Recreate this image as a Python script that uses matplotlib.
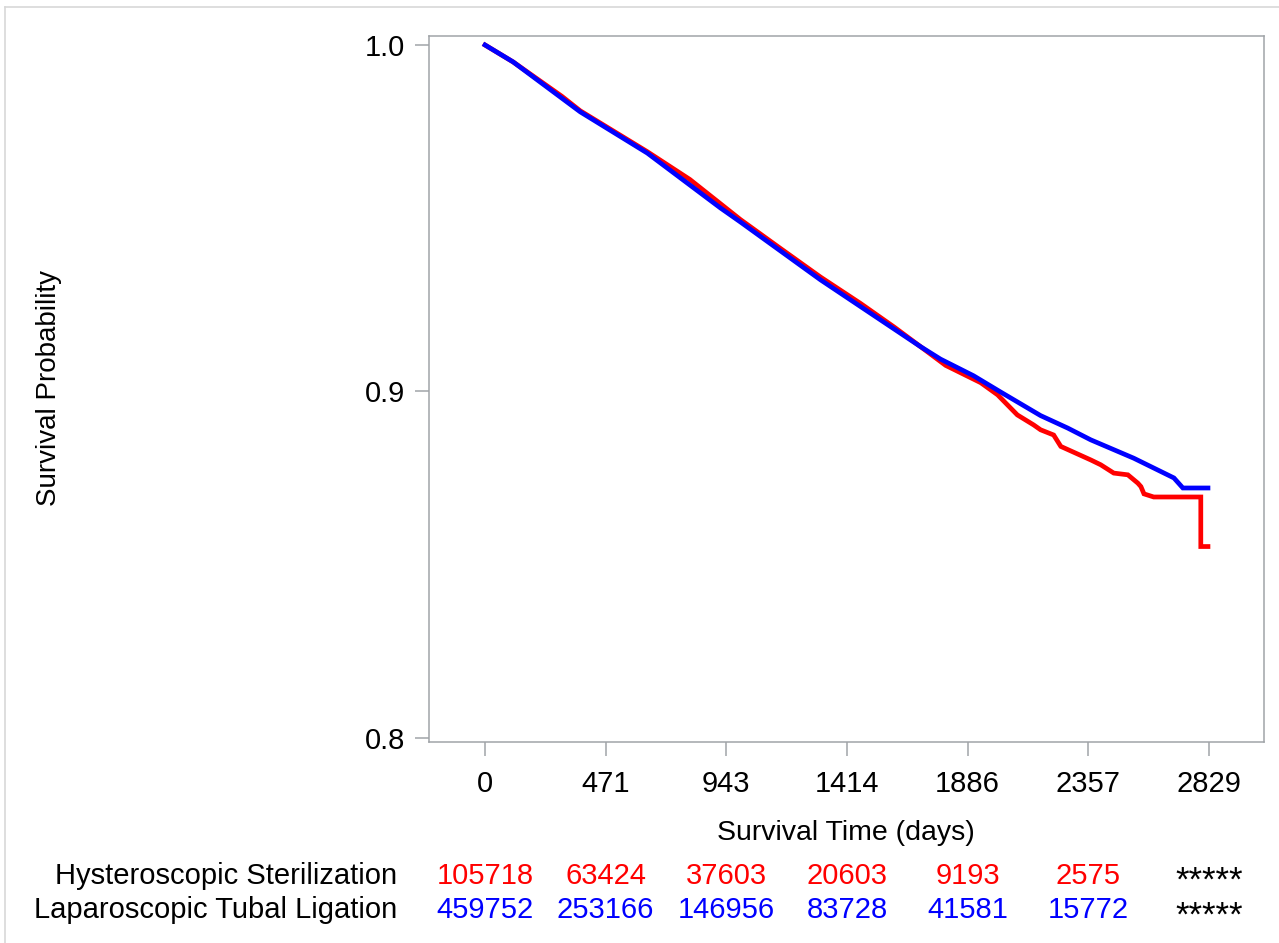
import matplotlib
matplotlib.use("Agg")
import matplotlib.pyplot as plt
import matplotlib.transforms as mtransforms
from matplotlib.lines import Line2D

plt.rcParams['font.family'] = ['Liberation Sans', 'DejaVu Sans']

#=====data=====#
hs_days = [0, 110, 300, 372, 634, 800, 998, 1150, 1311, 1467, 1600, 1702, 1800, 1937,
           2003, 2080, 2144, 2171, 2222, 2250, 2367, 2406, 2457, 2512, 2551, 2563, 2575,
           2613, 2797, 2797, 2825]
hs_surv = [1.0, 0.9951, 0.9852, 0.9810, 0.9692, 0.9612, 0.9496, 0.9415, 0.9330, 0.9254,
           0.9185, 0.9129, 0.9075, 0.9025, 0.8990, 0.8932, 0.8903, 0.8889, 0.8874, 0.8841,
           0.8802, 0.8788, 0.8764, 0.8759, 0.8735, 0.8725, 0.8704, 0.8695, 0.8695, 0.8552,
           0.8552]

lt_days = [0, 110, 372, 634, 919, 998, 1311, 1467, 1702, 1780, 1909, 2015, 2171, 2277,
           2367, 2535, 2692, 2727, 2825]
lt_surv = [1.0, 0.9951, 0.9807, 0.9688, 0.9530, 0.9489, 0.9322, 0.9245, 0.9129, 0.9093,
           0.9045, 0.8998, 0.8930, 0.8894, 0.8860, 0.8807, 0.8750, 0.8721, 0.8721]

x_ticks = [0, 471, 943, 1414, 1886, 2357, 2829]
y_ticks = [0.8, 0.9, 1.0]
y_ticklabels = ["0.8", "0.9", "1.0"]

group_names = ["Hysteroscopic Sterilization", "Laparoscopic Tubal Ligation"]
hs_at_risk = ["105718", "63424", "37603", "20603", "9193", "2575", "*****"]
lt_at_risk = ["459752", "253166", "146956", "83728", "41581", "15772", "*****"]

#=====figure=====#
W, H = 1279, 943
fs = 21
fig = plt.figure(figsize=(W / 100, H / 100), dpi=100)
ax = fig.add_axes([429 / W, 1 - 742 / H, (1264 - 429) / W, (742 - 36) / H])

ax.plot(hs_days, hs_surv, color='#FF0000', lw=3.4, solid_joinstyle='miter')
ax.plot(lt_days, lt_surv, color='#0000FF', lw=3.4, solid_joinstyle='miter')

ax.set_xlim(-219, 3044)
ax.set_ylim(0.79876, 1.0026)
ax.set_xticks(x_ticks)
ax.set_yticks(y_ticks)
ax.set_yticklabels(y_ticklabels)

spine_col = '#A0A4A8'
for s in ax.spines.values():
    s.set_color(spine_col)
    s.set_linewidth(1.1)
ax.tick_params(axis='both', direction='out', length=10, width=1.1, color=spine_col,
               labelsize=fs, labelcolor='black')
ax.tick_params(axis='x', pad=10)
ax.tick_params(axis='y', pad=7)

fig.text(49 / W, 1 - 388 / H, "Survival Probability", rotation=90,
         ha='center', va='center', fontsize=20)
fig.text(846 / W, 1 - 833 / H, "Survival Time (days)", ha='center', va='center',
         fontsize=20.5)

# number at risk table
trans = mtransforms.blended_transform_factory(ax.transData, fig.transFigure)
rows = [(hs_at_risk, '#FF0000', 883.5), (lt_at_risk, '#0000FF', 918.5)]
for name, (vals, col, base_px) in zip(group_names, rows):
    fig.text(397 / W, 1 - base_px / H, name, ha='right', va='baseline', fontsize=fs)
    for xt, v in zip(x_ticks, vals):
        if v.startswith('*'):
            ax.text(xt, 1 - (base_px + 7) / H, v, transform=trans, ha='center',
                    va='baseline', fontsize=25, color='black')
        else:
            ax.text(xt, 1 - base_px / H, v, transform=trans, ha='center',
                    va='baseline', fontsize=fs, color=col)

# light outer frame
fig.add_artist(Line2D([5 / W, 1], [1 - 7 / H, 1 - 7 / H], color='#D8D8D8', lw=1.2,
                      transform=fig.transFigure))
fig.add_artist(Line2D([5 / W, 5 / W], [0, 1 - 7 / H], color='#D8D8D8', lw=1.2,
                      transform=fig.transFigure))

fig.savefig("out.png", dpi=100)
